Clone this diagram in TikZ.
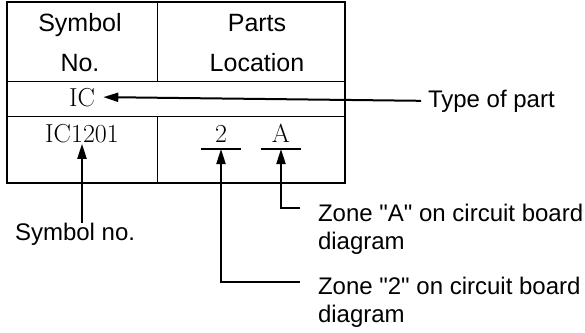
\documentclass[tikz,border=0pt]{standalone}
\usepackage{fontspec}
\setsansfont{Liberation Sans}
\usetikzlibrary{arrows.meta}

\begin{document}
\begin{tikzpicture}[x=1pt, y=-1pt, >={Triangle[length=15pt, width=9pt]}, line width=2pt,
  head/.style={font=\sffamily\fontsize{25}{30}\selectfont, anchor=base, inner sep=0pt},
  entry/.style={font=\rmfamily\fontsize{26}{30}\selectfont, anchor=base},
  note/.style={font=\sffamily\fontsize{24}{28}\selectfont, align=left, inner sep=3pt}]
  \useasboundingbox (0,0) rectangle (585,332);
  % tabla
  \draw (7,2) rectangle (345,183);
  \draw[line width=2.6pt] (7,183) -- (345,183);
  \draw[line width=1pt] (157,2) -- (157,81) (7,81) -- (345,81) (7,116) -- (345,116) (157,116) -- (157,183);
  \node[head] (hsym) at (80,31) {Symbol};
  \node[head] (hno) at (80,71) {No.};
  \node[head] (hparts) at (257,31) {Parts};
  \node[head] (hloc) at (257,71) {Location};
  % contenido
  \node[entry] (ic) at (82,106) {IC};
  \node[entry] (ic1201) at (82,142) {IC1201};
  \node[entry, minimum width=38pt, inner ysep=6pt] (loc2) at (221,142) {2};
  \node[entry, minimum width=38pt, inner ysep=6pt] (locA) at (281,142) {A};
  \draw (loc2.south west) -- (loc2.south east);
  \draw (locA.south west) -- (locA.south east);
  % notas
  \node[note, anchor=base west] (type) at (424,107) {Type of part};
  \node[note, anchor=base west] (symno) at (11,240) {Symbol no.};
  \node[note, anchor=north west] (zoneA) at (314,200) {Zone \textquotedbl A\textquotedbl{} on circuit board\\diagram};
  \node[note, anchor=north west] (zone2) at (314,273) {Zone \textquotedbl 2\textquotedbl{} on circuit board\\diagram};
  \coordinate (za) at (300,208);
  \coordinate (z2) at (300,282);
  % flechas
  \draw[->] ([xshift=-3pt]type.west) -- ([xshift=4pt]ic.east);
  \draw[->] ([yshift=-4pt]symno.north -| ic1201.south) -- ([yshift=3pt]ic1201.south);
  \draw[->] (za) -| (locA.south);
  \draw[->] (z2) -| (loc2.south);
\end{tikzpicture}
\end{document}
